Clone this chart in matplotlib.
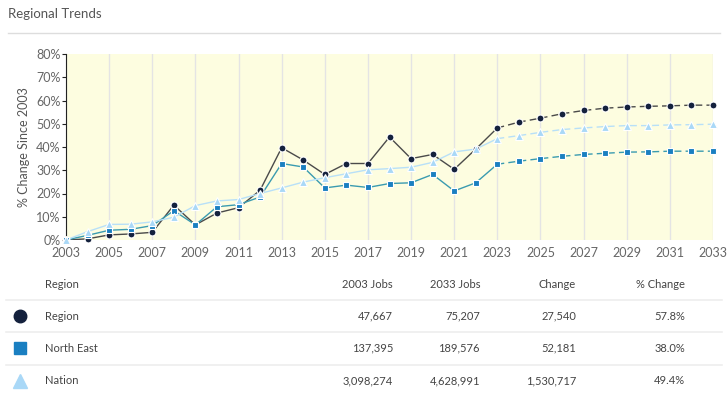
import matplotlib.pyplot as plt
from matplotlib.lines import Line2D

plt.rcParams['font.family'] = ['Lato', 'DejaVu Sans']

years = list(range(2003, 2034))

region = [0, 0.5, 2.2, 2.6, 3.3, 15.0, 6.5, 11.6, 13.9, 21.4,
          39.7, 34.4, 28.2, 32.9, 32.9, 44.3, 35.0, 36.8, 30.4, 39.1,
          48.2, 50.7, 52.4, 54.3, 55.7, 56.7, 57.2, 57.5, 57.7, 58.0, 58.0]
north_east = [0, 2.0, 4.2, 4.6, 6.2, 12.6, 6.5, 14.3, 15.2, 18.5,
              32.9, 31.4, 22.4, 23.6, 22.6, 24.3, 24.6, 28.2, 21.1, 24.6,
              32.6, 33.9, 35.0, 36.0, 36.8, 37.3, 37.8, 37.9, 38.2, 38.2, 38.2]
nation = [0, 3.6, 6.7, 6.8, 7.8, 9.8, 14.8, 16.8, 17.4, 20.0,
          22.4, 24.9, 26.8, 28.5, 30.2, 30.7, 31.3, 33.4, 37.9, 39.1,
          43.6, 44.9, 46.3, 47.5, 48.2, 48.8, 49.2, 49.2, 49.5, 49.6, 49.8]
last_actual = 2023

table_header = ["Region", "2003 Jobs", "2033 Jobs", "Change", "% Change"]
table_rows = [
    ["Region", "47,667", "75,207", "27,540", "57.8%"],
    ["North East", "137,395", "189,576", "52,181", "38.0%"],
    ["Nation", "3,098,274", "4,628,991", "1,530,717", "49.4%"],
]

series = [
    ("Region", region, "o", "#14213d", "#4a4a4a", 5),
    ("North East", north_east, "s", "#1a7fc1", "#3a9bb0", 5),
    ("Nation", nation, "^", "#a9d8f7", "#b8e0f8", 6),
]

W, H = 728, 395
fig = plt.figure(figsize=(W / 100, H / 100), dpi=100)

def fx(px):
    return px / W

def fy(py):
    return 1 - py / H

# title and rule
fig.text(fx(8), fy(14), "Regional Trends", fontsize=9.5, color="#555555", va="center")
fig.add_artist(Line2D([fx(8), fx(720)], [fy(33), fy(33)], color="#dddddd", lw=1))

ax = fig.add_axes([fx(66), fy(240), fx(647), (240 - 54) / H])
ax.set_facecolor("#fdfde0")

split = years.index(last_actual)
for name, vals, mk, mc, lc, ms in series:
    ax.plot(years[:split + 1], vals[:split + 1], color=lc, lw=1, zorder=2)
    ax.plot(years[split:], vals[split:], color=lc, lw=1, ls=(0, (5, 3)), zorder=2)
    ax.plot(years, vals, ls="none", marker=mk, ms=ms, mfc=mc, mec="white",
            mew=0.8, zorder=3, clip_on=False)

ax.set_xlim(2003, 2033)
ax.set_ylim(0, 80)
ax.set_xticks(range(2003, 2034, 2))
ax.set_yticks(range(0, 81, 10))
ax.set_yticklabels([f"{v}%" for v in range(0, 81, 10)])
ax.grid(axis="x", color="#e4e4e4", lw=1)
ax.set_axisbelow(True)
for s in ["top", "right", "bottom"]:
    ax.spines[s].set_visible(False)
ax.spines["left"].set_color("#222222")
ax.tick_params(axis="y", length=3, colors="#222222", labelcolor="#666666", labelsize=9, pad=1)
ax.tick_params(axis="x", length=0, labelcolor="#666666", labelsize=9, pad=5)
ax.set_ylabel("% Change Since 2003", fontsize=9, color="#555555", labelpad=4)

# table below chart
col_x = [45, 393, 480, 576, 685]
col_ha = ["left", "right", "right", "right", "right"]
header_y = 285
row_y = [316, 348, 381]
sep_y = [300, 332, 365]

for x, ha, txt in zip(col_x, col_ha, table_header):
    fig.text(fx(x), fy(header_y), txt, fontsize=8, color="#444444", ha=ha, va="center")
for y in sep_y:
    fig.add_artist(Line2D([fx(6), fx(722)], [fy(y), fy(y)], color="#eeeeee", lw=1.2))
for (name, vals, mk, mc, lc, ms), y, row in zip(series, row_y, table_rows):
    fig.add_artist(Line2D([fx(20)], [fy(y)], marker=mk, ms=9 if mk != "^" else 10,
                          mfc=mc, mec=mc, ls="none"))
    for x, ha, txt in zip(col_x, col_ha, row):
        fig.text(fx(x), fy(y), txt, fontsize=8, color="#444444", ha=ha, va="center")

fig.savefig("out.png", dpi=100)
